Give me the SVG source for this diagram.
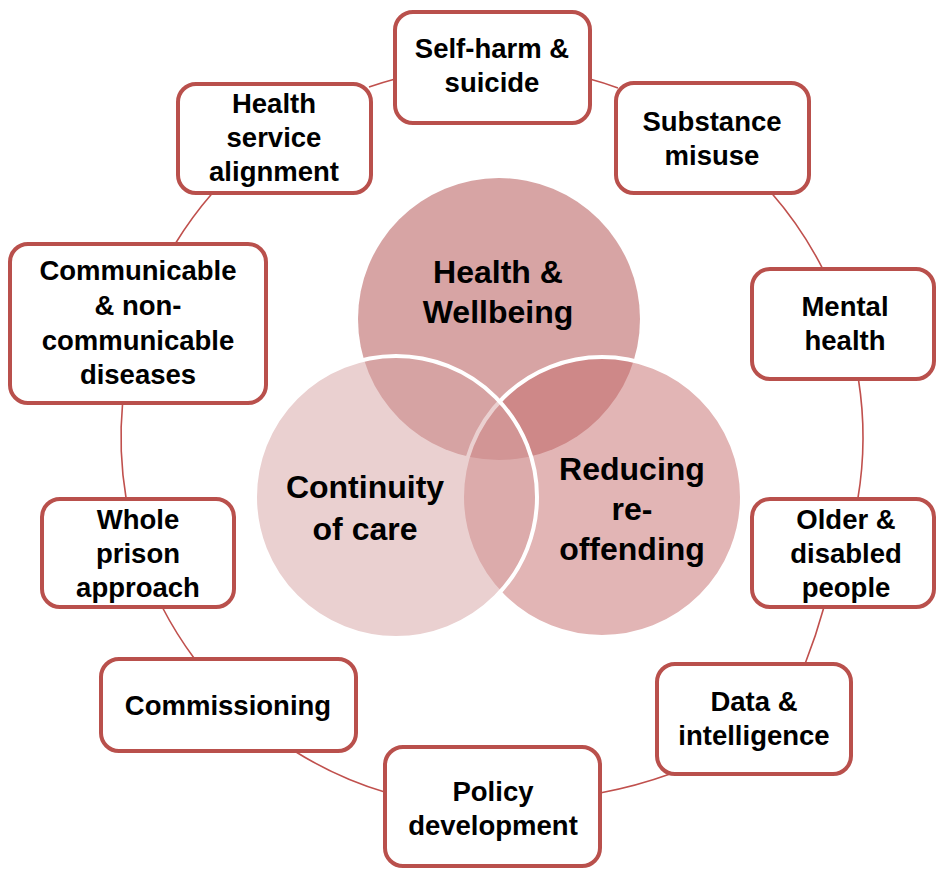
<svg xmlns="http://www.w3.org/2000/svg" width="936" height="871" viewBox="0 0 936 871">
<style>
.box{fill:#ffffff;stroke:#B9504C;stroke-width:4}
.bt{font-family:"Liberation Sans",Arial,sans-serif;font-weight:bold;font-size:27.5px;fill:#000;text-anchor:middle}
.ct{font-family:"Liberation Sans",Arial,sans-serif;font-weight:bold;font-size:32px;fill:#000;text-anchor:middle}
.ring{fill:none;stroke:#C0504D;stroke-width:1.6}
</style>
<rect width="936" height="871" fill="#ffffff"/>
<g id="connectors">
<path class="ring" d="M369,87 A371,371 0 0 1 397,78.4"/>
<path class="ring" d="M588,78.6 A371,371 0 0 1 618,88"/>
<path class="ring" d="M771.5,193 A371,371 0 0 1 822.8,269"/>
<path class="ring" d="M858.4,379 A371,371 0 0 1 857.8,499"/>
<path class="ring" d="M824,607 Q816,636 805,664"/>
<path class="ring" d="M670,774 Q637,786 600,793"/>
<path class="ring" d="M387,792.8 A371,371 0 0 1 294.4,751"/>
<path class="ring" d="M194.7,659 A371,371 0 0 1 162.2,607"/>
<path class="ring" d="M126.2,499 A371,371 0 0 1 122.6,403"/>
<path class="ring" d="M175.1,244 A371,371 0 0 1 212.5,193"/>
</g>
<g id="venn">
<g id="health-wellbeing">
<circle cx="499" cy="319" r="141" fill="#D7A4A4"/>
<text class="ct" x="498" y="283">Health &amp;</text>
<text class="ct" x="498" y="323">Wellbeing</text>
</g>
<g id="reducing-reoffending">
<circle cx="602" cy="497" r="140" fill="rgb(197,107,107)" fill-opacity="0.5" stroke="#ffffff" stroke-width="4"/>
</g>
<g id="continuity-of-care">
<circle cx="396" cy="497" r="141" fill="rgb(214,162,162)" fill-opacity="0.5" stroke="#ffffff" stroke-width="4"/>
</g>
<text class="ct" x="365" y="498">Continuity</text>
<text class="ct" x="365" y="540">of care</text>
<text class="ct" x="632" y="480">Reducing</text>
<text class="ct" x="632" y="520">re-</text>
<text class="ct" x="632" y="560">offending</text>
</g>
<g id="self-harm">
<rect class="box" x="395" y="12" width="195" height="111" rx="18"/>
<text class="bt" x="492" y="58">Self-harm &amp;</text>
<text class="bt" x="492" y="92">suicide</text>
</g>
<g id="substance-misuse">
<rect class="box" x="616" y="83" width="193" height="110" rx="18"/>
<text class="bt" x="712" y="131">Substance</text>
<text class="bt" x="712" y="165">misuse</text>
</g>
<g id="mental-health">
<rect class="box" x="752" y="269" width="182" height="110" rx="18"/>
<text class="bt" x="845" y="316">Mental</text>
<text class="bt" x="845" y="350">health</text>
</g>
<g id="older-disabled">
<rect class="box" x="752" y="499" width="182" height="108" rx="18"/>
<text class="bt" x="846" y="529">Older &amp;</text>
<text class="bt" x="846" y="563">disabled</text>
<text class="bt" x="846" y="597">people</text>
</g>
<g id="data-intelligence">
<rect class="box" x="657" y="664" width="194" height="110" rx="18"/>
<text class="bt" x="754" y="711">Data &amp;</text>
<text class="bt" x="754" y="745">intelligence</text>
</g>
<g id="policy-development">
<rect class="box" x="385" y="747" width="215" height="119" rx="18"/>
<text class="bt" x="493" y="801">Policy</text>
<text class="bt" x="493" y="835">development</text>
</g>
<g id="commissioning">
<rect class="box" x="101" y="659" width="255" height="92" rx="18"/>
<text class="bt" x="228" y="715">Commissioning</text>
</g>
<g id="whole-prison">
<rect class="box" x="42" y="499" width="192" height="108" rx="18"/>
<text class="bt" x="138" y="529">Whole</text>
<text class="bt" x="138" y="563">prison</text>
<text class="bt" x="138" y="597">approach</text>
</g>
<g id="communicable">
<rect class="box" x="10" y="244" width="256" height="159" rx="18"/>
<text class="bt" x="138" y="280">Communicable</text>
<text class="bt" x="138" y="315">&amp; non-</text>
<text class="bt" x="138" y="350">communicable</text>
<text class="bt" x="138" y="384">diseases</text>
</g>
<g id="health-service">
<rect class="box" x="178" y="84" width="193" height="109" rx="18"/>
<text class="bt" x="274" y="113">Health</text>
<text class="bt" x="274" y="147">service</text>
<text class="bt" x="274" y="181">alignment</text>
</g>
</svg>
